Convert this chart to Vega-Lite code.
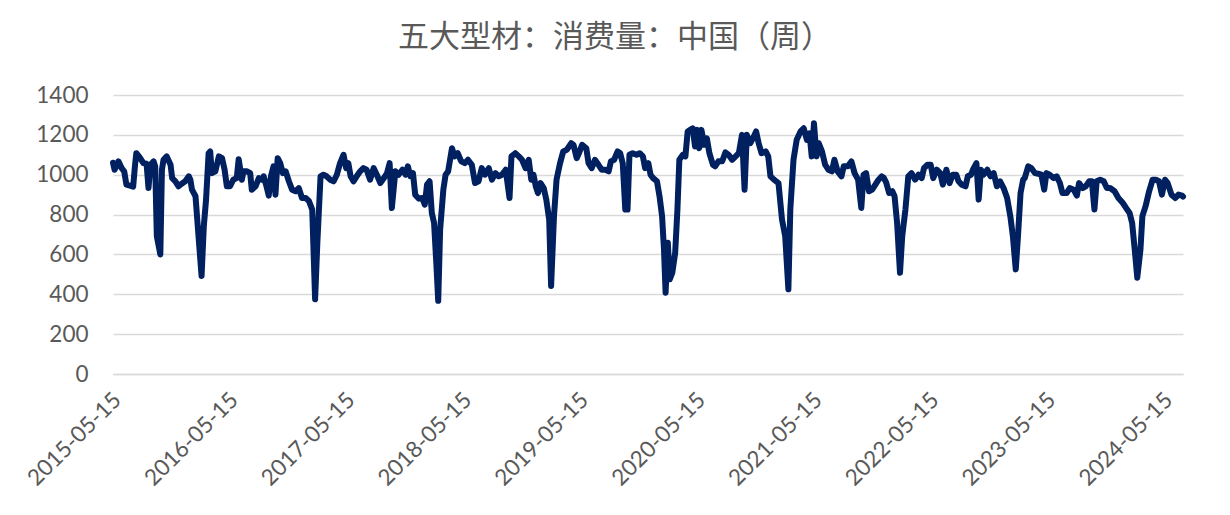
{
  "$schema": "https://vega.github.io/schema/vega-lite/v6.json",
  "width": 1070,
  "height": 279,
  "autosize": "none",
  "padding": {"left": 113, "top": 95, "right": 47, "bottom": 141},
  "background": "#ffffff",
  "title": {
    "text": "五大型材：消费量：中国（周）",
    "font": "Noto Sans CJK SC",
    "fontSize": 31,
    "fontWeight": "normal",
    "color": "#595959",
    "anchor": "middle",
    "frame": "group",
    "dx": -33,
    "offset": 30
  },
  "config": {
    "view": {"stroke": null},
    "axis": {"labelFont": "Lato", "labelFontSize": 22.5, "labelColor": "#595959", "ticks": false, "title": null}
  },
  "data": {
    "values": [
      {"date": "2015-05-15", "value": 1060}, {"date": "2015-05-20", "value": 1025}, {"date": "2015-06-01", "value": 1067}, {"date": "2015-06-11", "value": 1033},
      {"date": "2015-06-19", "value": 1017}, {"date": "2015-06-26", "value": 950}, {"date": "2015-07-07", "value": 945}, {"date": "2015-07-17", "value": 940},
      {"date": "2015-07-23", "value": 1050}, {"date": "2015-07-27", "value": 1108}, {"date": "2015-08-08", "value": 1083}, {"date": "2015-08-18", "value": 1058},
      {"date": "2015-08-28", "value": 1055}, {"date": "2015-09-03", "value": 933}, {"date": "2015-09-09", "value": 1050}, {"date": "2015-09-19", "value": 1067},
      {"date": "2015-09-24", "value": 1042}, {"date": "2015-09-29", "value": 692}, {"date": "2015-10-10", "value": 600}, {"date": "2015-10-15", "value": 1025},
      {"date": "2015-10-20", "value": 1075}, {"date": "2015-10-30", "value": 1092}, {"date": "2015-11-11", "value": 1050}, {"date": "2015-11-16", "value": 983},
      {"date": "2015-11-26", "value": 967}, {"date": "2015-12-06", "value": 942}, {"date": "2015-12-16", "value": 955}, {"date": "2015-12-27", "value": 967},
      {"date": "2016-01-07", "value": 992}, {"date": "2016-01-12", "value": 975}, {"date": "2016-01-17", "value": 925}, {"date": "2016-01-28", "value": 892},
      {"date": "2016-02-08", "value": 658}, {"date": "2016-02-16", "value": 492}, {"date": "2016-02-23", "value": 742}, {"date": "2016-03-01", "value": 875},
      {"date": "2016-03-09", "value": 1108}, {"date": "2016-03-14", "value": 1117}, {"date": "2016-03-19", "value": 1008}, {"date": "2016-03-30", "value": 1017},
      {"date": "2016-04-10", "value": 1092}, {"date": "2016-04-20", "value": 1083}, {"date": "2016-04-28", "value": 1025}, {"date": "2016-05-05", "value": 942},
      {"date": "2016-05-15", "value": 942}, {"date": "2016-05-25", "value": 975}, {"date": "2016-06-05", "value": 983}, {"date": "2016-06-11", "value": 1078},
      {"date": "2016-06-21", "value": 975}, {"date": "2016-06-26", "value": 1017}, {"date": "2016-07-07", "value": 1017}, {"date": "2016-07-17", "value": 1008},
      {"date": "2016-07-22", "value": 925}, {"date": "2016-08-03", "value": 942}, {"date": "2016-08-13", "value": 983}, {"date": "2016-08-23", "value": 975},
      {"date": "2016-08-28", "value": 992}, {"date": "2016-09-06", "value": 942}, {"date": "2016-09-13", "value": 895}, {"date": "2016-09-20", "value": 992},
      {"date": "2016-09-28", "value": 1042}, {"date": "2016-10-04", "value": 900}, {"date": "2016-10-11", "value": 1083}, {"date": "2016-10-19", "value": 1058},
      {"date": "2016-10-27", "value": 1008}, {"date": "2016-11-05", "value": 1017}, {"date": "2016-11-15", "value": 967}, {"date": "2016-11-25", "value": 925},
      {"date": "2016-12-06", "value": 917}, {"date": "2016-12-16", "value": 933}, {"date": "2016-12-26", "value": 883}, {"date": "2017-01-07", "value": 883},
      {"date": "2017-01-17", "value": 867}, {"date": "2017-01-27", "value": 825}, {"date": "2017-02-05", "value": 375}, {"date": "2017-02-12", "value": 658},
      {"date": "2017-02-22", "value": 992}, {"date": "2017-03-03", "value": 1000}, {"date": "2017-03-13", "value": 992}, {"date": "2017-03-24", "value": 975},
      {"date": "2017-04-04", "value": 967}, {"date": "2017-04-14", "value": 1000}, {"date": "2017-04-24", "value": 1058}, {"date": "2017-05-05", "value": 1100},
      {"date": "2017-05-13", "value": 1033}, {"date": "2017-05-20", "value": 1058}, {"date": "2017-05-27", "value": 992}, {"date": "2017-06-05", "value": 967},
      {"date": "2017-06-15", "value": 992}, {"date": "2017-06-26", "value": 1017}, {"date": "2017-07-06", "value": 1033}, {"date": "2017-07-16", "value": 1025},
      {"date": "2017-07-27", "value": 975}, {"date": "2017-08-07", "value": 1033}, {"date": "2017-08-17", "value": 1000}, {"date": "2017-08-28", "value": 958},
      {"date": "2017-09-08", "value": 983}, {"date": "2017-09-18", "value": 1008}, {"date": "2017-09-26", "value": 1058}, {"date": "2017-10-03", "value": 833},
      {"date": "2017-10-14", "value": 1017}, {"date": "2017-10-24", "value": 1000}, {"date": "2017-11-05", "value": 1025}, {"date": "2017-11-15", "value": 1000},
      {"date": "2017-11-22", "value": 1042}, {"date": "2017-11-30", "value": 992}, {"date": "2017-12-08", "value": 1008}, {"date": "2017-12-15", "value": 900},
      {"date": "2017-12-26", "value": 880}, {"date": "2018-01-06", "value": 883}, {"date": "2018-01-14", "value": 850}, {"date": "2018-01-21", "value": 950},
      {"date": "2018-01-29", "value": 967}, {"date": "2018-02-05", "value": 808}, {"date": "2018-02-12", "value": 758}, {"date": "2018-02-19", "value": 558},
      {"date": "2018-02-25", "value": 367}, {"date": "2018-03-03", "value": 725}, {"date": "2018-03-13", "value": 925}, {"date": "2018-03-20", "value": 1000},
      {"date": "2018-03-28", "value": 1017}, {"date": "2018-04-09", "value": 1133}, {"date": "2018-04-17", "value": 1092}, {"date": "2018-04-27", "value": 1108},
      {"date": "2018-05-08", "value": 1067}, {"date": "2018-05-19", "value": 1058}, {"date": "2018-05-29", "value": 1075}, {"date": "2018-06-10", "value": 1050},
      {"date": "2018-06-20", "value": 958}, {"date": "2018-07-01", "value": 967}, {"date": "2018-07-11", "value": 1033}, {"date": "2018-07-21", "value": 1000},
      {"date": "2018-08-02", "value": 1033}, {"date": "2018-08-12", "value": 975}, {"date": "2018-08-23", "value": 1008}, {"date": "2018-09-02", "value": 992},
      {"date": "2018-09-12", "value": 1000}, {"date": "2018-09-24", "value": 1025}, {"date": "2018-10-06", "value": 883}, {"date": "2018-10-12", "value": 1092},
      {"date": "2018-10-24", "value": 1108}, {"date": "2018-11-04", "value": 1092}, {"date": "2018-11-14", "value": 1075}, {"date": "2018-11-25", "value": 1033},
      {"date": "2018-12-05", "value": 1075}, {"date": "2018-12-13", "value": 975}, {"date": "2018-12-20", "value": 1000}, {"date": "2018-12-27", "value": 942},
      {"date": "2019-01-03", "value": 908}, {"date": "2019-01-11", "value": 958}, {"date": "2019-01-21", "value": 933}, {"date": "2019-01-29", "value": 875},
      {"date": "2019-02-07", "value": 775}, {"date": "2019-02-13", "value": 442}, {"date": "2019-02-22", "value": 792}, {"date": "2019-03-02", "value": 975},
      {"date": "2019-03-13", "value": 1058}, {"date": "2019-03-23", "value": 1117}, {"date": "2019-04-03", "value": 1125}, {"date": "2019-04-17", "value": 1158},
      {"date": "2019-04-24", "value": 1150}, {"date": "2019-05-04", "value": 1083}, {"date": "2019-05-11", "value": 1108}, {"date": "2019-05-21", "value": 1150},
      {"date": "2019-06-03", "value": 1133}, {"date": "2019-06-10", "value": 1058}, {"date": "2019-06-20", "value": 1033}, {"date": "2019-06-30", "value": 1075},
      {"date": "2019-07-11", "value": 1050}, {"date": "2019-07-21", "value": 1025}, {"date": "2019-08-01", "value": 1025}, {"date": "2019-08-12", "value": 1017},
      {"date": "2019-08-19", "value": 1067}, {"date": "2019-08-29", "value": 1075}, {"date": "2019-09-09", "value": 1117}, {"date": "2019-09-17", "value": 1108},
      {"date": "2019-09-25", "value": 1058}, {"date": "2019-10-03", "value": 825}, {"date": "2019-10-10", "value": 825}, {"date": "2019-10-16", "value": 1100},
      {"date": "2019-10-26", "value": 1108}, {"date": "2019-11-07", "value": 1100}, {"date": "2019-11-17", "value": 1108}, {"date": "2019-11-27", "value": 1092},
      {"date": "2019-12-04", "value": 1033}, {"date": "2019-12-14", "value": 1058}, {"date": "2019-12-21", "value": 1000}, {"date": "2019-12-29", "value": 983},
      {"date": "2020-01-10", "value": 967}, {"date": "2020-01-18", "value": 892}, {"date": "2020-01-26", "value": 792}, {"date": "2020-02-01", "value": 625},
      {"date": "2020-02-06", "value": 408}, {"date": "2020-02-13", "value": 658}, {"date": "2020-02-19", "value": 475}, {"date": "2020-02-27", "value": 508},
      {"date": "2020-03-07", "value": 608}, {"date": "2020-03-14", "value": 825}, {"date": "2020-03-20", "value": 1075}, {"date": "2020-03-31", "value": 1100},
      {"date": "2020-04-08", "value": 1092}, {"date": "2020-04-15", "value": 1217}, {"date": "2020-04-23", "value": 1225}, {"date": "2020-05-01", "value": 1233},
      {"date": "2020-05-08", "value": 1142}, {"date": "2020-05-15", "value": 1225}, {"date": "2020-05-21", "value": 1133}, {"date": "2020-05-28", "value": 1225},
      {"date": "2020-06-06", "value": 1150}, {"date": "2020-06-14", "value": 1183}, {"date": "2020-06-22", "value": 1108}, {"date": "2020-07-03", "value": 1050},
      {"date": "2020-07-10", "value": 1042}, {"date": "2020-07-20", "value": 1067}, {"date": "2020-08-01", "value": 1067}, {"date": "2020-08-11", "value": 1112},
      {"date": "2020-08-21", "value": 1100}, {"date": "2020-09-01", "value": 1075}, {"date": "2020-09-12", "value": 1092}, {"date": "2020-09-22", "value": 1108},
      {"date": "2020-10-02", "value": 1200}, {"date": "2020-10-10", "value": 925}, {"date": "2020-10-17", "value": 1200}, {"date": "2020-10-28", "value": 1158},
      {"date": "2020-11-08", "value": 1192}, {"date": "2020-11-15", "value": 1217}, {"date": "2020-11-23", "value": 1158}, {"date": "2020-12-02", "value": 1108},
      {"date": "2020-12-15", "value": 1117}, {"date": "2020-12-23", "value": 1092}, {"date": "2020-12-30", "value": 992}, {"date": "2021-01-10", "value": 975},
      {"date": "2021-01-24", "value": 958}, {"date": "2021-02-04", "value": 775}, {"date": "2021-02-14", "value": 692}, {"date": "2021-02-24", "value": 425},
      {"date": "2021-03-02", "value": 825}, {"date": "2021-03-12", "value": 1075}, {"date": "2021-03-22", "value": 1175}, {"date": "2021-04-03", "value": 1217},
      {"date": "2021-04-13", "value": 1233}, {"date": "2021-04-23", "value": 1175}, {"date": "2021-05-01", "value": 1208}, {"date": "2021-05-08", "value": 1092},
      {"date": "2021-05-15", "value": 1258}, {"date": "2021-05-23", "value": 1092}, {"date": "2021-05-30", "value": 1158}, {"date": "2021-06-09", "value": 1117},
      {"date": "2021-06-19", "value": 1050}, {"date": "2021-06-29", "value": 1025}, {"date": "2021-07-10", "value": 1017}, {"date": "2021-07-18", "value": 1075},
      {"date": "2021-07-28", "value": 1017}, {"date": "2021-08-09", "value": 992}, {"date": "2021-08-16", "value": 1042}, {"date": "2021-08-29", "value": 1042},
      {"date": "2021-09-09", "value": 1067}, {"date": "2021-09-19", "value": 1008}, {"date": "2021-09-30", "value": 975}, {"date": "2021-10-10", "value": 833},
      {"date": "2021-10-17", "value": 1000}, {"date": "2021-10-25", "value": 1008}, {"date": "2021-11-03", "value": 917}, {"date": "2021-11-13", "value": 925},
      {"date": "2021-11-23", "value": 950}, {"date": "2021-12-03", "value": 975}, {"date": "2021-12-13", "value": 992}, {"date": "2021-12-19", "value": 985},
      {"date": "2021-12-27", "value": 960}, {"date": "2022-01-05", "value": 908}, {"date": "2022-01-15", "value": 917}, {"date": "2022-01-22", "value": 892},
      {"date": "2022-01-30", "value": 758}, {"date": "2022-02-08", "value": 508}, {"date": "2022-02-15", "value": 692}, {"date": "2022-02-25", "value": 825},
      {"date": "2022-03-06", "value": 992}, {"date": "2022-03-16", "value": 1008}, {"date": "2022-03-27", "value": 975}, {"date": "2022-04-07", "value": 1000},
      {"date": "2022-04-17", "value": 983}, {"date": "2022-04-24", "value": 1033}, {"date": "2022-05-05", "value": 1050}, {"date": "2022-05-15", "value": 1050},
      {"date": "2022-05-23", "value": 983}, {"date": "2022-06-03", "value": 1025}, {"date": "2022-06-14", "value": 1008}, {"date": "2022-06-22", "value": 950},
      {"date": "2022-07-03", "value": 1025}, {"date": "2022-07-13", "value": 958}, {"date": "2022-07-23", "value": 1000}, {"date": "2022-08-03", "value": 1000},
      {"date": "2022-08-10", "value": 967}, {"date": "2022-08-20", "value": 950}, {"date": "2022-09-01", "value": 942}, {"date": "2022-09-08", "value": 992},
      {"date": "2022-09-18", "value": 1000}, {"date": "2022-09-24", "value": 1025}, {"date": "2022-10-05", "value": 1058}, {"date": "2022-10-12", "value": 875},
      {"date": "2022-10-19", "value": 1025}, {"date": "2022-10-27", "value": 1000}, {"date": "2022-11-08", "value": 1025}, {"date": "2022-11-18", "value": 992},
      {"date": "2022-11-28", "value": 1008}, {"date": "2022-12-08", "value": 942}, {"date": "2022-12-18", "value": 967}, {"date": "2022-12-29", "value": 933},
      {"date": "2023-01-09", "value": 883}, {"date": "2023-01-19", "value": 792}, {"date": "2023-01-27", "value": 692}, {"date": "2023-02-05", "value": 525},
      {"date": "2023-02-12", "value": 692}, {"date": "2023-02-20", "value": 908}, {"date": "2023-02-28", "value": 975}, {"date": "2023-03-05", "value": 983},
      {"date": "2023-03-16", "value": 1042}, {"date": "2023-03-26", "value": 1033}, {"date": "2023-04-06", "value": 1008}, {"date": "2023-04-16", "value": 1005},
      {"date": "2023-04-26", "value": 1000}, {"date": "2023-05-05", "value": 925}, {"date": "2023-05-12", "value": 1008}, {"date": "2023-05-22", "value": 1000},
      {"date": "2023-06-03", "value": 983}, {"date": "2023-06-13", "value": 992}, {"date": "2023-06-23", "value": 958}, {"date": "2023-07-01", "value": 908},
      {"date": "2023-07-14", "value": 908}, {"date": "2023-07-24", "value": 933}, {"date": "2023-08-05", "value": 925}, {"date": "2023-08-15", "value": 895},
      {"date": "2023-08-22", "value": 958}, {"date": "2023-09-02", "value": 933}, {"date": "2023-09-12", "value": 942}, {"date": "2023-09-23", "value": 967},
      {"date": "2023-10-01", "value": 967}, {"date": "2023-10-09", "value": 825}, {"date": "2023-10-16", "value": 967}, {"date": "2023-10-27", "value": 975},
      {"date": "2023-11-07", "value": 967}, {"date": "2023-11-17", "value": 933}, {"date": "2023-11-27", "value": 933}, {"date": "2023-12-11", "value": 917},
      {"date": "2023-12-23", "value": 883}, {"date": "2024-01-06", "value": 858}, {"date": "2024-01-16", "value": 833}, {"date": "2024-01-27", "value": 808},
      {"date": "2024-02-04", "value": 758}, {"date": "2024-02-12", "value": 625}, {"date": "2024-02-20", "value": 483}, {"date": "2024-03-01", "value": 625},
      {"date": "2024-03-07", "value": 792}, {"date": "2024-03-17", "value": 842}, {"date": "2024-03-28", "value": 917}, {"date": "2024-04-08", "value": 975},
      {"date": "2024-04-18", "value": 975}, {"date": "2024-04-28", "value": 967}, {"date": "2024-05-07", "value": 900}, {"date": "2024-05-17", "value": 975},
      {"date": "2024-05-25", "value": 958}, {"date": "2024-06-06", "value": 900}, {"date": "2024-06-18", "value": 883}, {"date": "2024-06-28", "value": 900},
      {"date": "2024-07-09", "value": 895}, {"date": "2024-07-12", "value": 890}
    ]
  },
  "mark": {"type": "line", "color": "#002060", "strokeWidth": 6, "strokeJoin": "round", "strokeCap": "round", "clip": false},
  "encoding": {
    "x": {
      "field": "date",
      "type": "temporal",
      "scale": {
        "type": "utc",
        "domain": [{"year": 2015, "month": 5, "date": 15, "utc": true}, {"year": 2024, "month": 7, "date": 12, "utc": true}]
      },
      "axis": {
        "values": [
          {"year": 2015, "month": 5, "date": 15, "utc": true}, {"year": 2016, "month": 5, "date": 15, "utc": true},
          {"year": 2017, "month": 5, "date": 15, "utc": true}, {"year": 2018, "month": 5, "date": 15, "utc": true},
          {"year": 2019, "month": 5, "date": 15, "utc": true}, {"year": 2020, "month": 5, "date": 15, "utc": true},
          {"year": 2021, "month": 5, "date": 15, "utc": true}, {"year": 2022, "month": 5, "date": 15, "utc": true},
          {"year": 2023, "month": 5, "date": 15, "utc": true}, {"year": 2024, "month": 5, "date": 15, "utc": true}
        ],
        "labelExpr": "utcFormat(datum.value, '%Y-%m-%d')",
        "labelAngle": -45,
        "labelAlign": "right",
        "labelBaseline": "middle",
        "labelPadding": 22,
        "labelOffset": 4,
        "labelOverlap": false,
        "labelBound": false,
        "labelFlush": false,
        "grid": false,
        "domain": true,
        "domainColor": "#d9d9d9",
        "domainWidth": 1.5
      }
    },
    "y": {
      "field": "value",
      "type": "quantitative",
      "scale": {"domain": [0, 1400], "nice": false, "zero": true},
      "axis": {
        "values": [0, 200, 400, 600, 800, 1000, 1200, 1400],
        "format": "d",
        "domain": false,
        "grid": true,
        "gridColor": "#d9d9d9",
        "gridWidth": 1.5,
        "labelPadding": 25
      }
    }
  }
}
